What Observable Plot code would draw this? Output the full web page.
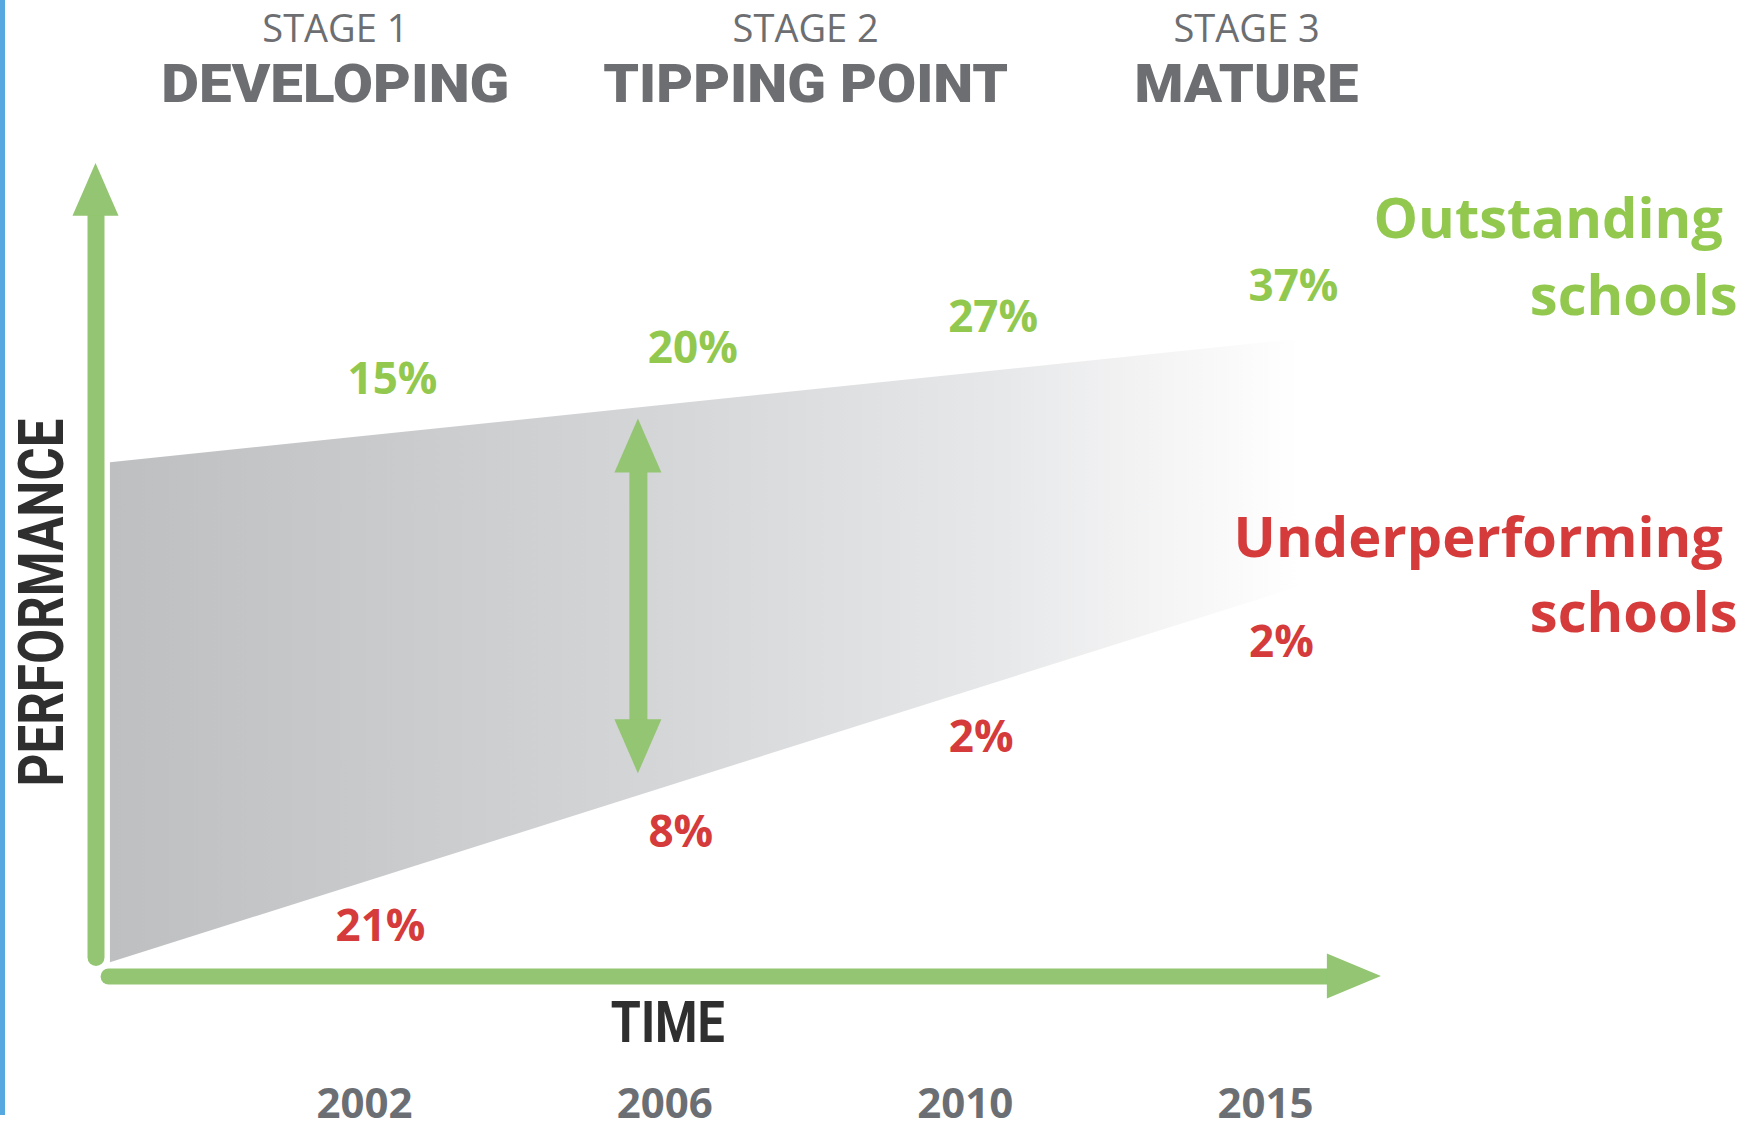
<!DOCTYPE html>
<html>
<head>
<meta charset="utf-8">
<script src="https://cdn.jsdelivr.net/npm/d3@7"></script>
<script src="https://cdn.jsdelivr.net/npm/@observablehq/plot@0.6"></script>
<style>
  html, body { margin: 0; padding: 0; background: #ffffff; }
  #wrap { position: relative; width: 1749px; height: 1131px; overflow: hidden; }
  #edge { position: absolute; left: 0; top: 0; width: 5px; height: 1115px; background: #56a8e0; }
  #chart svg { display: block; }
</style>
</head>
<body>
<div id="wrap"><div id="chart"></div><div id="edge"></div></div>
<script>
// ---------- data ----------
const years = ["2002", "2006", "2010", "2015"];
const outstanding = [15, 20, 27, 37];          // % outstanding schools
const underperforming = [21, 8, 2, 2];         // % underperforming schools
const stageNumbers = ["STAGE 1", "STAGE 2", "STAGE 3"];
const stageNames = ["DEVELOPING", "TIPPING POINT", "MATURE"];
const seriesNames = ["Outstanding\u00A0\nschools", "Underperforming\u00A0\nschools"];
// performance gap band (x in year-index units, y in performance units)
const bandX = [-0.846, 3.12];
const bandTop = [63.2, 78.4];
const bandBottom = [1.7, 48.0];

// ---------- layout ----------
const W = 1749, H = 1131;
const X0 = -1.212, X1 = 4.6116;
const Y0 = -19.065, Y1 = 120.05;
const kx = W / (X1 - X0), ky = H / (Y1 - Y0);
const ux = p => p / kx, uy = p => p / ky;           // pixels -> data units
const layout = {
  axisX: -0.894, axisYStart: 2.34, axisYBase: 93.5, axisYTip: 100,
  axisXStart: -0.852, axisXBase: 3.206, axisXTip: 3.386,
  gapX: 0.912,
  stageX: [-0.097, 1.469, 2.937],
  timeX: 1.01, timeY: -5.8
};
const GREEN_ARROW = "#93c572";
const GREEN = "#92c84e";
const RED = "#d43b3a";
const GRAY = "#6d6e71";
const DARK = "#2f2f2f";
const SANS = "'Open Sans', 'Noto Sans', sans-serif";
const HEAVY = "Roboto, Inter, 'Liberation Sans', sans-serif";

const lerp = (xs, ys, x) => ys[0] + (ys[1] - ys[0]) * (x - xs[0]) / (xs[1] - xs[0]);
const band = bandX.map((x, i) => ({x, top: bandTop[i], bottom: bandBottom[i]}));

// double arrow across the gap at the tipping point
const gTop = lerp(bandX, bandTop, layout.gapX) - uy(11);
const gBot = lerp(bandX, bandBottom, layout.gapX) + uy(22);
const headL = uy(54), headW = ux(23.5);

const gradientDefs = () => {
  const defs = d3.create("svg:defs");
  const g = defs.append("linearGradient").attr("id", "bandGrad")
    .attr("x1", 0).attr("x2", 1).attr("y1", 0).attr("y2", 0);
  [[0, "#bebfc1"], [0.45, "#d4d5d7"], [0.75, "#e7e8e9"], [0.9, "#f6f6f7"], [1, "#ffffff"]]
    .forEach(([o, c]) => g.append("stop").attr("offset", o).attr("stop-color", c));
  return defs.node();
};

const chart = Plot.plot({
  width: W, height: H,
  marginTop: 0, marginRight: 0, marginBottom: 0, marginLeft: 0,
  x: {domain: [X0, X1], axis: null},
  y: {domain: [Y0, Y1], axis: null},
  style: {background: "transparent"},
  marks: [
    gradientDefs,
    // gap band
    Plot.areaY(band, {x: "x", y1: "bottom", y2: "top", fill: "url(#bandGrad)"}),
    // vertical axis arrow
    Plot.line([[layout.axisX, layout.axisYStart], [layout.axisX, layout.axisYBase + uy(2)]],
      {stroke: GREEN_ARROW, strokeWidth: 17, strokeLinecap: "round"}),
    Plot.areaX([
      {y: layout.axisYBase, x1: layout.axisX - ux(23), x2: layout.axisX + ux(23)},
      {y: layout.axisYTip, x1: layout.axisX, x2: layout.axisX}
    ], {y: "y", x1: "x1", x2: "x2", fill: GREEN_ARROW}),
    // horizontal axis arrow
    Plot.line([[layout.axisXStart, 0], [layout.axisXBase + ux(2), 0]],
      {stroke: GREEN_ARROW, strokeWidth: 16, strokeLinecap: "round"}),
    Plot.areaY([
      {x: layout.axisXBase, y1: -uy(22.5), y2: uy(22.5)},
      {x: layout.axisXTip, y1: 0, y2: 0}
    ], {x: "x", y1: "y1", y2: "y2", fill: GREEN_ARROW}),
    // double-headed arrow (gap)
    Plot.line([[layout.gapX, gTop - headL + uy(2)], [layout.gapX, gBot + headL - uy(2)]],
      {stroke: GREEN_ARROW, strokeWidth: 18}),
    Plot.areaX([
      {y: gTop - headL, x1: layout.gapX - headW, x2: layout.gapX + headW},
      {y: gTop, x1: layout.gapX, x2: layout.gapX}
    ], {y: "y", x1: "x1", x2: "x2", fill: GREEN_ARROW}),
    Plot.areaX([
      {y: gBot + headL, x1: layout.gapX - headW, x2: layout.gapX + headW},
      {y: gBot, x1: layout.gapX, x2: layout.gapX}
    ], {y: "y", x1: "x1", x2: "x2", fill: GREEN_ARROW}),
    // percentage labels
    Plot.text(outstanding, {
      x: (d, i) => i, y: (d, i) => lerp(bandX, bandTop, i), text: d => d + "%",
      dx: 28, dy: -56, fill: GREEN, fontSize: 44, fontWeight: 700, fontFamily: SANS
    }),
    Plot.text(underperforming, {
      x: (d, i) => i, y: (d, i) => lerp(bandX, bandBottom, i), text: d => d + "%",
      dx: 16, dy: 45, fill: RED, fontSize: 44, fontWeight: 700, fontFamily: SANS
    }),
    // stage headers
    Plot.text(stageNumbers, {
      x: (d, i) => layout.stageX[i], frameAnchor: "top", text: d => d,
      dy: 29.5, lineAnchor: "middle", fill: GRAY, fontSize: 38, fontWeight: 400, fontFamily: SANS
    }),
    Plot.text(stageNames, {
      x: (d, i) => layout.stageX[i], frameAnchor: "top", text: d => d,
      dy: 84, lineAnchor: "middle", fill: GRAY, fontSize: 54, fontWeight: 900, fontFamily: HEAVY
    }),
    // series names on the right
    Plot.text([seriesNames[0]], {
      frameAnchor: "top-right", text: d => d, textAnchor: "end", lineAnchor: "middle",
      dx: -12, dy: 251, lineHeight: 1.38, fill: GREEN, fontSize: 56, fontWeight: 700, fontFamily: SANS
    }),
    Plot.text([seriesNames[1]], {
      frameAnchor: "top-right", text: d => d, textAnchor: "end", lineAnchor: "middle",
      dx: -12, dy: 570, lineHeight: 1.35, fill: RED, fontSize: 56, fontWeight: 700, fontFamily: SANS
    }),
    // axis titles
    Plot.text(["PERFORMANCE"], {
      frameAnchor: "left", text: d => d, rotate: -90, dx: 42, dy: 36.5,
      textAnchor: "middle", lineAnchor: "middle",
      fill: DARK, fontSize: 63, fontWeight: 700, fontFamily: HEAVY
    }),
    Plot.text(["TIME"], {
      x: layout.timeX, y: layout.timeY, text: d => d,
      lineAnchor: "middle", fill: DARK, fontSize: 58, fontWeight: 700, fontFamily: HEAVY
    }),
    // year labels (x axis)
    Plot.text(years, {
      x: (d, i) => i, frameAnchor: "bottom", text: d => d, dy: -27, lineAnchor: "middle",
      textAnchor: "middle",
      fill: "#6b6f74", fontSize: 42, fontWeight: 700, fontFamily: SANS
    })
  ]
});

// fit a few heavy/condensed titles to the widths in the original
const fit = {"PERFORMANCE": 368, "TIME": 114, "DEVELOPING": 348, "TIPPING POINT": 405, "MATURE": 224};
chart.querySelectorAll("text").forEach(t => {
  const k = t.textContent;
  if (fit[k] && !t.querySelector("tspan")) {
    t.setAttribute("textLength", fit[k]);
    t.setAttribute("lengthAdjust", "spacingAndGlyphs");
  }
});
document.getElementById("chart").appendChild(chart);
</script>
</body>
</html>
